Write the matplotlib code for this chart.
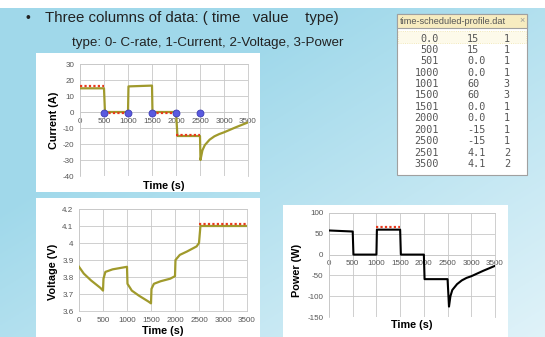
import numpy as np
import matplotlib
matplotlib.use('Agg')
import matplotlib.pyplot as plt
from matplotlib.patches import Rectangle

plt.rcParams['font.family'] = ['Liberation Sans', 'DejaVu Sans']
plt.rcParams['axes.unicode_minus'] = False

#%% data

# current (A) vs time (s)
cur_t = [0, 500, 520, 1000, 1010, 1500, 1510, 2000, 2030, 2500, 2510, 2550, 2600,
         2700, 2800, 2900, 3000, 3250, 3500]
cur_v = [14.8, 14.8, 0, 0, 16, 16.5, 0, 0, -15, -15, -30, -24, -20.7,
         -17.3, -15.2, -13.8, -12.7, -9.5, -6.5]
cur_set_t = [[0, 500], [510, 1000], [1500, 2000], [2010, 2500]]
cur_set_v = [16.4, -0.5, -0.5, -14.3]
switch_t = [500, 1000, 1500, 2000, 2500]
switch_v = [-0.6, -0.6, -0.6, -0.6, -0.6]

# voltage (V) vs time (s)
volt_t = [0, 100, 250, 450, 500, 510, 550, 700, 900, 1000, 1010, 1100, 1250, 1450,
          1500, 1510, 1560, 1700, 1900, 2000, 2010, 2100, 2250, 2450, 2500, 2530, 3500]
volt_v = [3.86, 3.82, 3.78, 3.735, 3.72, 3.79, 3.83, 3.845, 3.855, 3.86, 3.76, 3.72,
          3.69, 3.655, 3.645, 3.73, 3.76, 3.775, 3.79, 3.805, 3.90, 3.93, 3.95, 3.98,
          4.0, 4.1, 4.1]
volt_set_t = [2500, 3500]
volt_set_v = [4.11, 4.11]

# power (W) vs time (s)
pow_t = [0, 500, 515, 1000, 1010, 1500, 1515, 2000, 2015, 2500, 2530, 2560, 2600,
         2700, 2800, 2900, 3000, 3250, 3500]
pow_v = [58, 55.5, 0, 0, 60, 60, 0, 0, -59, -59, -125, -100, -85,
         -71, -62, -56, -52, -39, -27]
pow_set_t = [1000, 1500]
pow_set_v = [66, 66]

# file listing
tab_time = ['0.0', '500', '501', '1000', '1001', '1500', '1501', '2000', '2001', '2500', '2501', '3500']
tab_value = ['15', '15', '0.0', '0.0', '60', '60', '0.0', '0.0', '-15', '-15', '4.1', '4.1']
tab_type = ['1', '1', '1', '1', '3', '3', '1', '1', '1', '1', '2', '2']

OLIVE = '#a09a2c'
RED = '#e8391d'
GRID = '#c8c8c8'
TXT = '#555555'

W, H = 545, 337


def px(x0, y0, x1, y1):
    return [x0 / W, 1 - y1 / H, (x1 - x0) / W, (y1 - y0) / H]


fig = plt.figure(figsize=(W / 100, H / 100), dpi=100)

#%% slide background
bg = fig.add_axes([0, 0, 1, 1])
bg.set_xlim(0, W)
bg.set_ylim(H, 0)
bg.axis('off')
gx, gy = np.meshgrid(np.linspace(0, 1, 200), np.linspace(0, 1, 200))
g = np.clip(0.55 * gx + 0.55 * gy - 0.35, 0, 1)[..., None]
c0 = np.array([0.63, 0.85, 0.92])
c1 = np.array([0.96, 0.985, 0.995])
bg.imshow(c0 * (1 - g) + c1 * g, extent=[0, W, H, 0], aspect='auto')
bg.add_patch(Rectangle((0, 0), W, 8, color='white', lw=0))

# white panels
for x0, y0, x1, y1 in [(36, 53, 260, 192), (36, 198, 260, 337), (283, 205, 508, 337)]:
    bg.add_patch(Rectangle((x0, y0), x1 - x0, y1 - y0, facecolor='white', lw=0))

bg.text(25, 18, '\u2022', fontsize=10, va='center', color='#222222')
bg.text(45, 18, 'Three columns of data: ( time   value    type)', fontsize=10.8,
        va='center', color='#222222')
bg.text(72, 43, 'type: 0- C-rate, 1-Current, 2-Voltage, 3-Power', fontsize=9.6,
        va='center', color='#222222')

# file listing window
bg.add_patch(Rectangle((397, 14), 130, 161, facecolor='white', edgecolor='#a0a0a0', lw=0.8))
bg.add_patch(Rectangle((397, 14), 130, 14, facecolor='#f7ecc0', edgecolor='#a0a0a0', lw=0.8))
bg.add_patch(Rectangle((398, 31), 128, 12, facecolor='#fdfaea', edgecolor='#efe3a8',
                       lw=0.6, ls=':'))
bg.text(400, 21.5, 'time-scheduled-profile.dat', fontsize=6.6, color=TXT, va='center')
bg.text(519, 21, '\u00d7', fontsize=6.5, color='#999999', va='center')
for i in range(len(tab_time)):
    y = 38.5 + 11.4 * i
    bg.text(439, y, tab_time[i], fontsize=7.3, family='DejaVu Sans Mono', color=TXT,
            ha='right', va='center')
    bg.text(467, y, tab_value[i], fontsize=7.3, family='DejaVu Sans Mono', color=TXT,
            ha='left', va='center')
    bg.text(510, y, tab_type[i], fontsize=7.3, family='DejaVu Sans Mono', color=TXT,
            ha='right', va='center')


def style(ax, ylim, yticks, ylabels, cross_zero):
    ax.set_xlim(0, 3500)
    ax.set_xticks(range(0, 3501, 500))
    ax.set_ylim(*ylim)
    ax.set_yticks(yticks)
    ax.set_yticklabels(ylabels)
    ax.grid(True, color=GRID, lw=0.6)
    ax.set_axisbelow(True)
    for s in ax.spines.values():
        s.set_color(GRID)
        s.set_linewidth(0.6)
    if cross_zero:
        ax.spines['bottom'].set_position(('data', 0))
    ax.tick_params(length=0, labelsize=5.8, colors=TXT, pad=4)
    ax.patch.set_alpha(0)


#%% current
ax1 = fig.add_axes(px(80, 64, 248, 176))
style(ax1, (-40, 30), range(-40, 31, 10), [str(v) for v in range(-40, 31, 10)], True)
ax1.plot(cur_t, cur_v, color=OLIVE, lw=1.6, zorder=3)
for t, v in zip(cur_set_t, cur_set_v):
    ax1.plot(t, [v, v], color=RED, lw=1.6, ls=(0, (1, 1)), zorder=4)
ax1.plot(switch_t, switch_v, 'o', ms=5, color='#5a5ae0', mec='#3c3cb4', mew=0.6,
         zorder=5, clip_on=False)
ax1.text(-0.155, 0.5, 'Current (A)', transform=ax1.transAxes, rotation=90, fontsize=7.8,
         fontweight='bold', ha='center', va='center')
ax1.text(0.5, -0.09, 'Time (s)', transform=ax1.transAxes, fontsize=7.8,
         fontweight='bold', ha='center', va='center')

#%% voltage
ax2 = fig.add_axes(px(79, 209, 247, 311))
vt = [3.6, 3.7, 3.8, 3.9, 4.0, 4.1, 4.2]
style(ax2, (3.6, 4.2), vt, ['3.6', '3.7', '3.8', '3.9', '4', '4.1', '4.2'], False)
ax2.plot(volt_t, volt_v, color=OLIVE, lw=1.6, zorder=3)
ax2.plot(volt_set_t, volt_set_v, color=RED, lw=1.6, ls=(0, (1, 1)), zorder=4)
ax2.text(-0.155, 0.38, 'Voltage (V)', transform=ax2.transAxes, rotation=90, fontsize=7.8,
         fontweight='bold', ha='center', va='center')
ax2.text(0.5, -0.2, 'Time (s)', transform=ax2.transAxes, fontsize=7.8,
         fontweight='bold', ha='center', va='center')

#%% power
ax3 = fig.add_axes(px(329, 213, 495, 317))
style(ax3, (-150, 100), range(-150, 101, 50), [str(v) for v in range(-150, 101, 50)], True)
ax3.plot(pow_t, pow_v, color='black', lw=1.5, zorder=3)
ax3.plot(pow_set_t, pow_set_v, color=RED, lw=1.6, ls=(0, (1, 1)), zorder=4)
ax3.text(-0.195, 0.45, 'Power (W)', transform=ax3.transAxes, rotation=90, fontsize=7.8,
         fontweight='bold', ha='center', va='center')
ax3.text(0.5, -0.08, 'Time (s)', transform=ax3.transAxes, fontsize=7.8,
         fontweight='bold', ha='center', va='center')

fig.savefig('out.png', dpi=100)
